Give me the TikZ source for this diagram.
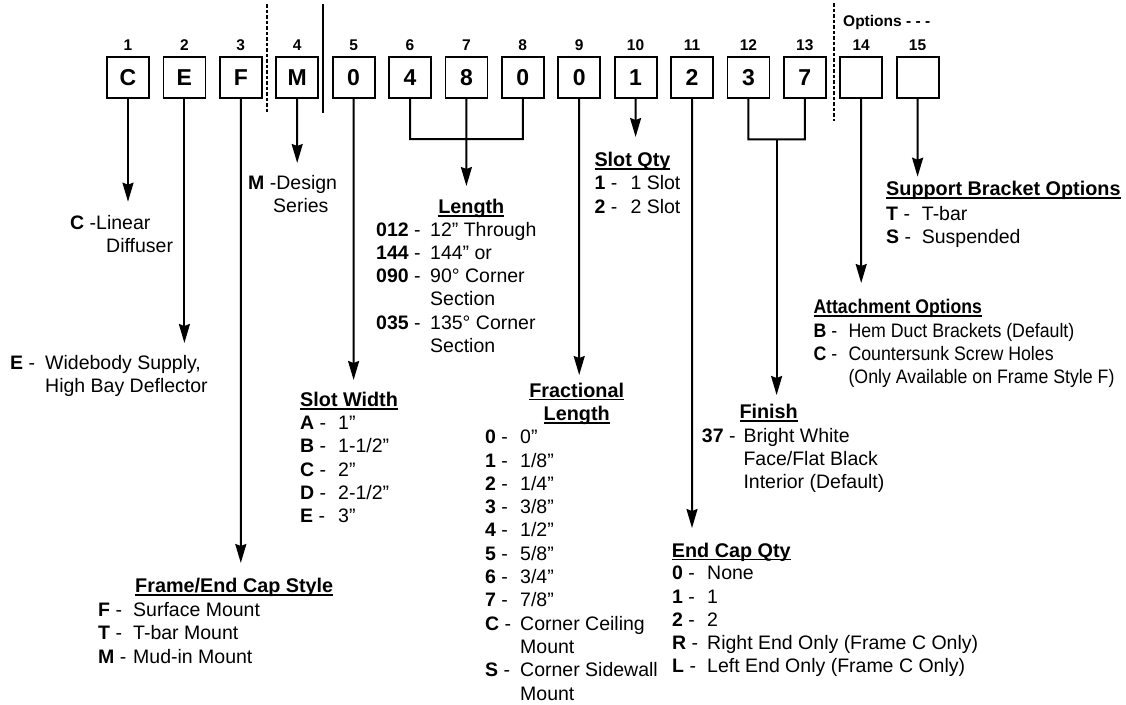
\documentclass[tikz,border=0pt]{standalone}
\usepackage{fontspec}
\setmainfont{Liberation Sans}
\usetikzlibrary{arrows.meta}
\newsavebox\ulbox
\newcommand\uln[1]{\sbox\ulbox{#1}\rlap{\rule[-3.3pt]{\wd\ulbox}{1.8pt}}\usebox\ulbox}
\newcommand\ky[2]{\makebox[#1][l]{\textbf{#2} -}}
\newenvironment{rowlist}{\begin{tabular}[t]{@{}l@{}l@{}}}{\end{tabular}}
\begin{document}
\begin{tikzpicture}[x=1pt,y=-1pt,
  box/.style={draw, line width=1.8pt, minimum width=42pt, minimum height=41pt, inner sep=0pt,
    font=\fontsize{23}{23}\selectfont\bfseries},
  num/.style={anchor=base, inner sep=0pt, font=\fontsize{15.5}{15.5}\selectfont\bfseries},
  txt/.style={anchor=base west, inner sep=0pt, font=\fontsize{19.5}{23.3}\selectfont},
  ttl/.style={anchor=base west, inner sep=0pt, font=\fontsize{19.8}{23.3}\selectfont\bfseries},
  con/.style={line width=2pt, line join=miter},
  arr/.style={con, -{Stealth[length=19pt,width=11pt,inset=2pt]}},
  sep/.style={line width=1.4pt},
  dsep/.style={line width=1.4pt, dash pattern=on 3.5pt off 2pt}]
\fill[white] (0,0) rectangle (1126,704);
\useasboundingbox (0,0) rectangle (1126,704);

% boxes and position numbers
\foreach \i/\c in {1/C,2/E,3/F,4/M,5/0,6/4,7/8,8/0,9/0,10/1,11/2,12/3,13/7,14/,15/}{
  \node[box] (b\i) at ({128+56.4*(\i-1)},77.5) {\c};
  \node[num] (n\i) at ({128+56.4*(\i-1)},50.5) {\i};
}
\node[num, anchor=base west] (opt) at (843,27) {Options - - -};

% separators
\draw[dsep] (267,4) -- (267,113);
\draw[sep] (323,4) -- (323,113);
\draw[dsep] (834,3) -- (834,121);

% arrow tips and bracket corners
\coordinate (t1) at (128,201.7);
\coordinate (t2) at (184.4,343);
\coordinate (t3) at (240.8,563);
\coordinate (t4) at (297.2,163);
\coordinate (t5) at (353.6,380);
\coordinate (k6) at (410,139);
\coordinate (k8) at (522.8,139);
\coordinate (t7) at (466.4,186);
\coordinate (t9) at (579.2,375);
\coordinate (t10) at (635.6,137);
\coordinate (t11) at (692,528);
\coordinate (k12) at (748.4,139.3);
\coordinate (k13) at (804.8,139.3);
\coordinate (km) at (776.6,139.3);
\coordinate (tm) at (776.6,395);
\coordinate (t14) at (861.2,283);
\coordinate (t15) at (917.6,176.7);

\draw[arr] (b1.south) -- (t1);
\draw[arr] (b2.south) -- (t2);
\draw[arr] (b3.south) -- (t3);
\draw[arr] (b4.south) -- (t4);
\draw[arr] (b5.south) -- (t5);
\draw[con] (b6.south) -- (k6) -- (k8) -- (b8.south);
\draw[arr] (b7.south) -- (t7);
\draw[arr] (b9.south) -- (t9);
\draw[arr] (b10.south) -- (t10);
\draw[arr] (b11.south) -- (t11);
\draw[con] (b12.south) -- (k12) -- (k13) -- (b13.south);
\draw[arr] (km) -- (tm);
\draw[arr] (b14.south) -- (t14);
\draw[arr] (b15.south) -- (t15);

% 1: C
\node[txt] (lc) at (70,229.5) {\begin{tabular}[t]{@{}l@{}}\textbf{C} -Linear\\\hspace*{36pt}Diffuser\end{tabular}};
% 2: E
\node[txt] (le) at (10,369.5) {\begin{rowlist}\ky{35pt}{E} & Widebody Supply,\\ & High Bay Deflector\end{rowlist}};
% 3: Frame
\node[ttl] (lfT) at (135,592.5) {\uln{Frame/End Cap Style}};
\node[txt] (lf) at (98,616.5) {\begin{rowlist}\ky{35pt}{F} & Surface Mount\\\ky{35pt}{T} & T-bar Mount\\\ky{35pt}{M} & Mud-in Mount\end{rowlist}};
% 4: M
\node[txt] (lm) at (248,189.5) {\begin{tabular}[t]{@{}l@{}}\textbf{M} -Design\\\hspace*{25pt}Series\end{tabular}};
% 5: Slot width
\node[ttl] (lswT) at (300,406.5) {\uln{Slot Width}};
\node[txt] (lsw) at (300,429.5) {\begin{rowlist}\ky{38pt}{A} & 1”\\\ky{38pt}{B} & 1-1/2”\\\ky{38pt}{C} & 2”\\\ky{38pt}{D} & 2-1/2”\\\ky{38pt}{E} & 3”\end{rowlist}};
% 6-8: Length
\node[ttl, anchor=base] (llT) at (471.3,213.7) {\uln{Length}};
\node[txt] (ll) at (376,236) {\begin{rowlist}\ky{54pt}{012} & 12” Through\\\ky{54pt}{144} & 144” or\\\ky{54pt}{090} & 90° Corner\\ & Section\\\ky{54pt}{035} & 135° Corner\\ & Section\end{rowlist}};
% 9: Fractional length
\node[ttl, anchor=base] (lfrT) at (576.7,397) {\begin{tabular}[t]{@{}c@{}}\uln{Fractional}\\\uln{Length}\end{tabular}};
\node[txt] (lfr) at (485,443.7) {\begin{rowlist}\ky{35pt}{0} & 0”\\\ky{35pt}{1} & 1/8”\\\ky{35pt}{2} & 1/4”\\\ky{35pt}{3} & 3/8”\\\ky{35pt}{4} & 1/2”\\\ky{35pt}{5} & 5/8”\\\ky{35pt}{6} & 3/4”\\\ky{35pt}{7} & 7/8”\\\ky{35pt}{C} & Corner Ceiling\\ & Mount\\\ky{35pt}{S} & Corner Sidewall\\ & Mount\end{rowlist}};
% 10: Slot qty
\node[ttl] (lsqT) at (594.3,166.3) {\uln{Slot Qty}};
\node[txt] (lsq) at (594.3,189.7) {\begin{rowlist}\ky{36pt}{1} & 1 Slot\\\ky{36pt}{2} & 2 Slot\end{rowlist}};
% 11: End cap qty
\node[ttl] (lecT) at (671.7,557) {\uln{End Cap Qty}};
\node[txt] (lec) at (672,579.7) {\begin{rowlist}\ky{35pt}{0} & None\\\ky{35pt}{1} & 1\\\ky{35pt}{2} & 2\\\ky{35pt}{R} & Right End Only (Frame C Only)\\\ky{35pt}{L} & Left End Only (Frame C Only)\end{rowlist}};
% 12-13: Finish
\node[ttl] (lfiT) at (739.3,418.7) {\uln{Finish}};
\node[txt] (lfi) at (701.7,442) {\begin{rowlist}\ky{41.6pt}{37} & Bright White\\ & Face/Flat Black\\ & Interior (Default)\end{rowlist}};
% 14: Attachment
\node[ttl] (laT) at (813.3,313.7) {\scalebox{0.89}[1]{\uln{Attachment Options}}};
\node[txt] (la) at (813.3,337) {\scalebox{0.91}[1]{\begin{rowlist}\ky{38.5pt}{B} & Hem Duct Brackets (Default)\\\ky{38.5pt}{C} & Countersunk Screw Holes\\ & (Only Available on Frame Style F)\end{rowlist}}};
% 15: Support bracket
\node[ttl] (lsbT) at (886,195.3) {\uln{Support Bracket Options}};
\node[txt] (lsb) at (886,220.3) {\begin{rowlist}\ky{35.7pt}{T} & T-bar\\\ky{35.7pt}{S} & Suspended\end{rowlist}};
\end{tikzpicture}
\end{document}
